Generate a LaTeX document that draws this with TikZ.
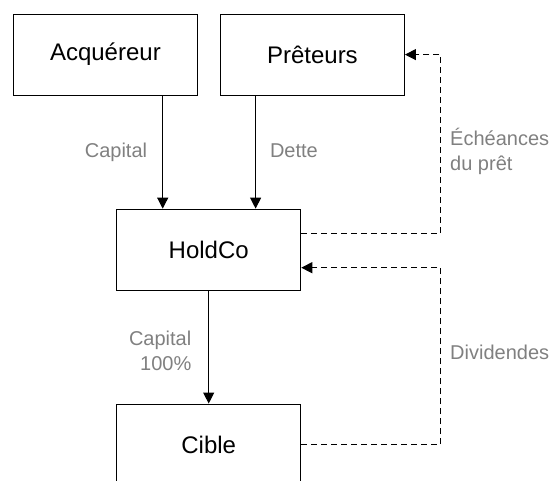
\documentclass[tikz,border=0pt]{standalone}
\usepackage{fontspec}
\setmainfont{Liberation Sans}
\usetikzlibrary{arrows.meta}
\definecolor{labelgray}{HTML}{808080}

\tikzset{
  entity/.style={draw, line width=1.1pt, minimum width=184pt, minimum height=81pt, inner sep=0pt, font=\fontsize{24}{28}\selectfont},
  flow/.style={-{Triangle[width=11pt,length=11pt]}, line width=1.1pt},
  payment/.style={flow, dash pattern=on 6pt off 4pt},
  flowlabel/.style={text=labelgray, inner sep=0pt, font=\fontsize{20}{25}\selectfont}
}

\begin{document}
\begin{tikzpicture}[x=1pt, y=-1pt]
            \useasboundingbox (0,0) rectangle (554,481);

            % Parties
            \node[entity] (acq) at (105.4,54.6) {Acquéreur};
            \node[entity] (pret) at (312.4,54.6) {Prêteurs};
            \node[entity] (hold) at (208.7,249.7) {HoldCo};
            \node[entity] (cible) at (208.7,444.6) {Cible};

            % Financement
            \draw[flow] ([xshift=57.3pt]acq.south) -- ([xshift=57.3pt]acq.south |- hold.north);
            \draw[flow] ([xshift=-56.8pt]pret.south) -- ([xshift=-56.8pt]pret.south |- hold.north);
            \draw[flow] (hold) -- (cible);

            % Remontees
            \coordinate (loop) at (440.7,0);
            \draw[payment] ([yshift=16pt]hold.east) -| (loop |- pret.east) -- (pret.east);
            \draw[payment] (cible.east) -- (loop |- cible.east) |- ([yshift=-18pt]hold.east);

            % Libelles
            \node[flowlabel, anchor=base east] (lcap) at (147.3,157.7) {Capital};
            \node[flowlabel, anchor=base west] (ldette) at (269.8,157.7) {Dette};
            \node[flowlabel, anchor=west, align=left] (lech) at (450,151) {Échéances\\du prêt};
            \node[flowlabel, anchor=east, align=right] (lcib) at (191.5,351) {Capital\\100\%};
            \node[flowlabel, anchor=base west] (ldiv) at (450,359) {Dividendes};

\end{tikzpicture}
\end{document}
